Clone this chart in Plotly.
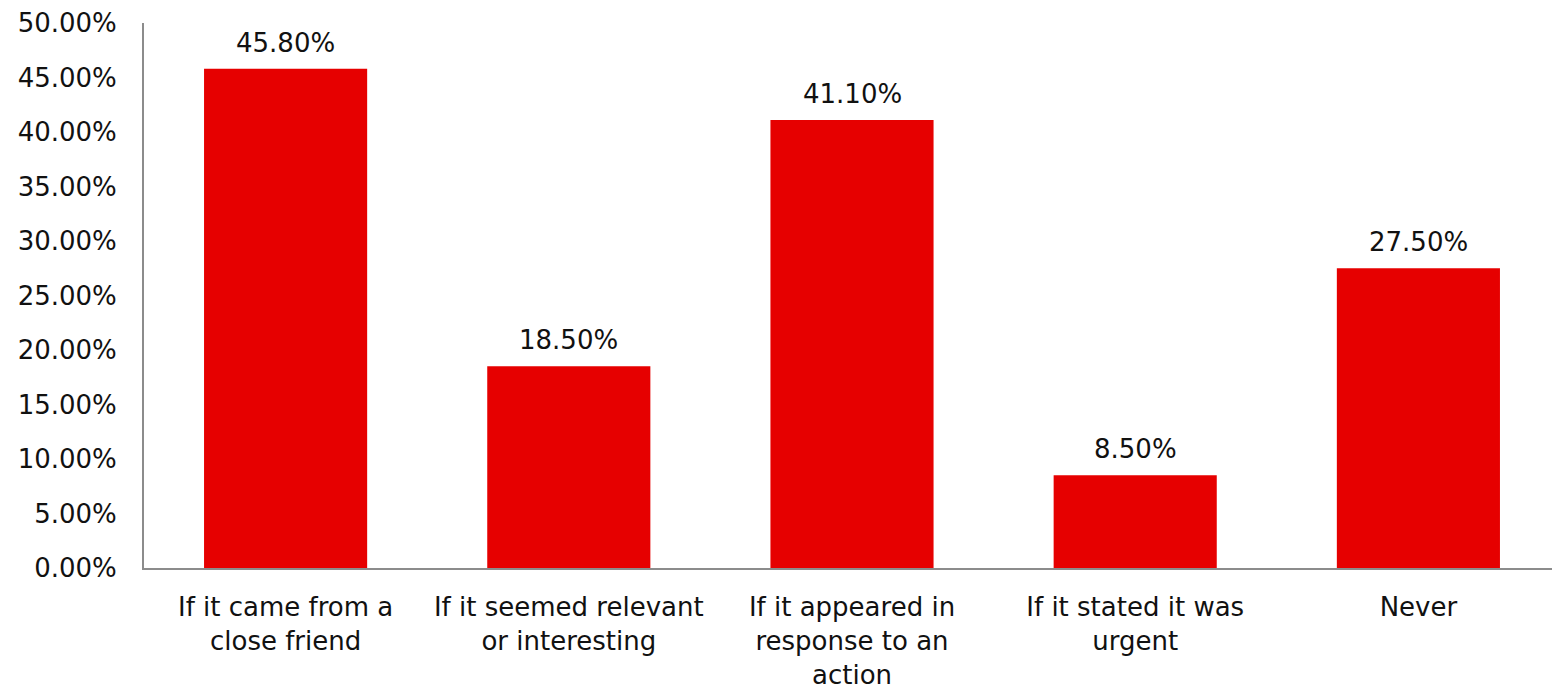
import plotly.graph_objects as go

# survey answers and share of respondents (%)
categories = [
    "If it came from a<br>close friend",
    "If it seemed relevant<br>or interesting",
    "If it appeared in<br>response to an<br>action",
    "If it stated it was<br>urgent",
    "Never",
]
values = [45.8, 18.5, 41.1, 8.5, 27.5]
y_ticks = [0, 5, 10, 15, 20, 25, 30, 35, 40, 45, 50]
y_tick_labels = [f"{t:.2f}%" for t in y_ticks]

FONT = "DejaVu Sans, Verdana, sans-serif"
TXT = "#111111"

fig = go.Figure()
fig.add_trace(go.Bar(
    x=categories,
    y=values,
    marker=dict(color="#e60000", line=dict(width=0)),
    hoverinfo="skip",
))

# value labels above each bar
for cat, val in zip(categories, values):
    fig.add_annotation(
        x=cat, y=val,
        text=f"{val:.2f}%",
        showarrow=False,
        yanchor="bottom",
        yshift=9,
        font=dict(family=FONT, size=26, color=TXT),
    )

# page body adds an 8px offset, so the figure is sized to fit inside 1560x690
fig.update_layout(
    width=1552,
    height=682,
    margin=dict(l=136, r=0, t=15, b=112),
    paper_bgcolor="white",
    plot_bgcolor="white",
    showlegend=False,
    bargap=0.424,
    font=dict(family=FONT, size=26, color=TXT),
    xaxis=dict(
        showline=True, linecolor="#8c8c8c", linewidth=2,
        showgrid=False, ticks="", tickangle=0,
        ticklabelstandoff=15,
        tickfont=dict(family=FONT, size=26, color=TXT),
    ),
    yaxis=dict(
        range=[0, 50],
        tickmode="array",
        tickvals=y_ticks,
        ticktext=y_tick_labels,
        showline=True, linecolor="#8c8c8c", linewidth=2,
        showgrid=False, zeroline=False, ticks="",
        ticklabelstandoff=20,
        tickfont=dict(family=FONT, size=26, color=TXT),
    ),
)

fig.write_html("out.html")
